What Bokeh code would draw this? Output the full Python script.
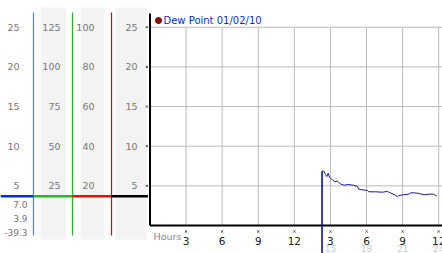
from bokeh.plotting import figure
from bokeh.layouts import row
from bokeh.models import Range1d
from bokeh.core.properties import value
from bokeh.embed import file_html
from bokeh.resources import INLINE

# ---------------- data ----------------
dew_hours = [14.30, 14.45, 14.59, 14.70, 14.81, 14.92, 15.15, 15.36, 15.59, 15.81,
             16.14, 16.48, 16.92, 17.25, 17.36, 17.64, 18.08, 18.19, 18.75, 19.30,
             19.74, 19.97, 20.35, 20.57, 20.68, 21.07, 21.51, 21.68, 22.01, 22.34,
             22.79, 23.18, 23.57, 23.84]
dew_values = [6.85, 6.85, 6.43, 6.18, 6.60, 6.09, 5.76, 5.51, 5.59, 5.26,
              5.08, 5.17, 5.08, 4.92, 4.58, 4.50, 4.41, 4.25, 4.25, 4.20,
              4.29, 4.12, 3.87, 3.62, 3.78, 3.87, 3.95, 4.12, 4.12, 4.04,
              3.87, 3.95, 3.95, 3.70]

y_ticks = [5, 10, 15, 20, 25]
scale1_labels = ["25", "20", "15", "10", "5"]
scale2_labels = ["125", "100", "75", "50", "25"]
scale3_labels = ["100", "80", "60", "40", "20"]
scale4_labels = ["25", "20", "15", "10", "5"]
stats_labels = ["7.0", "3.9", "-39.3"]

hour_ticks = [3, 6, 9, 12, 15, 18, 21, 24]
hour_labels12 = ["3", "6", "9", "12", "3", "6", "9", "12"]
hour_ticks24 = [15, 18, 21, 24]
hour_labels24 = ["15", "18", "21", "24"]
legend_label = "Dew Point 01/02/10"
axis_title = "Hours"

# ---------------- geometry helpers ----------------
FONT = value("DejaVu Sans")
H = 253
PX_PER_UNIT = 7.93
ZERO_PX = 225.0


def vy(py):
    """pixel row -> value on the shared y scale"""
    return (ZERO_PX - py) / PX_PER_UNIT


y_range = Range1d(vy(H), vy(0))

common = dict(height=H, y_range=y_range, output_backend="svg", toolbar_location=None,
              min_border=0, outline_line_color=None, x_axis_type=None, y_axis_type=None,
              background_fill_color="white", border_fill_color="white")

# ---------------- left scale panel ----------------
LW = 148
left = figure(width=LW, x_range=Range1d(0, LW), **common)
left.grid.visible = False

left.quad(left=[40, 80, 115], right=[66, 104, 146], top=vy(7), bottom=vy(239),
          fill_color="#f3f3f3", line_color=None)

left.segment(x0=[33, 72, 111], x1=[33, 72, 111], y0=vy(12), y1=vy(235),
             line_color=["#3399cc", "#33aa33", "#aa2222"], line_width=1.3)

cur = dew_values[-1]
left.segment(x0=[0, 33, 72, 111], x1=[33, 72, 111, LW], y0=cur, y1=cur,
             line_color=["#0033cc", "#22bb22", "#dd1111", "#000000"], line_width=2.5)

for xr, labs in zip([19, 60, 94, 137], [scale1_labels, scale2_labels, scale3_labels, scale4_labels]):
    left.text(x=[xr] * len(labs), y=y_ticks[::-1], text=labs, text_align="right",
              text_baseline="middle", text_font=FONT, text_font_size="9.5px",
              text_color="#777777")

left.scatter(x=[146.5] * len(y_ticks), y=y_ticks, marker="x", size=3,
             line_color="#444444", line_width=1)

left.text(x=[27] * 3, y=[vy(204), vy(218), vy(232)], text=stats_labels,
          text_align="right", text_baseline="middle", text_font=FONT,
          text_font_size="9px", text_color="#777777")

# ---------------- main chart ----------------
MW = 442 - LW
x0 = (LW - 149.5) / 12.03
main = figure(width=MW, x_range=Range1d(x0, x0 + MW / 12.03), **common)
main.grid.visible = False

# grid
main.segment(x0=[0] * len(y_ticks), x1=[30] * len(y_ticks), y0=y_ticks, y1=y_ticks,
             line_color="#bbbbbb", line_width=1)
main.segment(x0=hour_ticks, x1=hour_ticks, y0=0, y1=y_ticks[-1],
             line_color="#bbbbbb", line_width=1)
main.scatter(x=hour_ticks, y=[y_ticks[-1]] * len(hour_ticks), marker="x", size=3,
             line_color="#dddddd")

# axes
main.segment(x0=[0, 0], x1=[0, 30], y0=[0, 0], y1=[vy(13), 0],
             line_color="black", line_width=2)

# x ticks
main.scatter(x=hour_ticks, y=[vy(231)] * len(hour_ticks), marker="x", size=3,
             line_color="#444444")
main.text(x=hour_ticks, y=[vy(240)] * len(hour_ticks), text=hour_labels12,
          text_align="center", text_baseline="middle", text_font=FONT,
          text_font_size="10.5px", text_color="#222222")
main.text(x=hour_ticks24, y=[vy(248)] * len(hour_ticks24), text=hour_labels24,
          text_align="center", text_baseline="middle", text_font=FONT,
          text_font_size="9px", text_color="#cccccc")
main.text(x=[(153 - 149.5) / 12.03], y=[vy(236)], text=[axis_title],
          text_align="left", text_baseline="middle", text_font=FONT,
          text_font_size="9.5px", text_color="#888888")

# data start marker and series
main.segment(x0=[dew_hours[0]], x1=[dew_hours[0]], y0=[dew_values[0]], y1=[vy(H)],
             line_color="#000099", line_width=1.5)
main.line(dew_hours, dew_values, line_color="#1a1a99", line_width=1)

# legend
main.scatter(x=[(158 - 149.5) / 12.03], y=[vy(20)], marker="circle", size=6,
             fill_color="#aa0000", line_color="#550000")
main.text(x=[(163 - 149.5) / 12.03], y=[vy(20)], text=[legend_label],
          text_align="left", text_baseline="middle", text_font=FONT,
          text_font_size="10px", text_color="#0a2fc0")

layout = row(left, main, spacing=0)
open("out.html", "w").write(file_html(layout, INLINE))
